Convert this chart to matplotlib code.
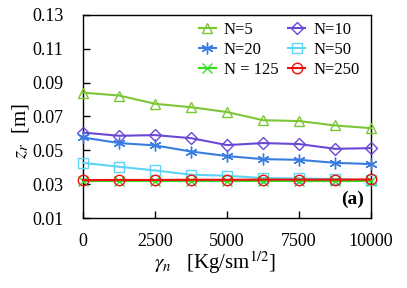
import matplotlib
matplotlib.use('Agg')
import matplotlib.pyplot as plt

# gamma_n values (x axis)
gamma = [0, 1250, 2500, 3750, 5000, 6250, 7500, 8750, 10000]

# z_r [m] for each N
z_n5 = [0.0841, 0.0824, 0.0775, 0.0755, 0.0726, 0.0678, 0.0673, 0.0647, 0.0631]
z_n10 = [0.0605, 0.0586, 0.0590, 0.0572, 0.0531, 0.0543, 0.0537, 0.0509, 0.0513]
z_n20 = [0.0576, 0.0543, 0.0529, 0.0493, 0.0466, 0.0448, 0.0444, 0.0426, 0.0419]
z_n50 = [0.0426, 0.0403, 0.0381, 0.0356, 0.0350, 0.0336, 0.0334, 0.0330, 0.0322]
z_n125 = [0.0320, 0.0320, 0.0320, 0.0320, 0.0320, 0.0320, 0.0320, 0.0320, 0.0320]
z_n250 = [0.0324, 0.0325, 0.0325, 0.0326, 0.0326, 0.0327, 0.0327, 0.0327, 0.0328]

labels = ['N=5', 'N=10', 'N=20', 'N=50', 'N = 125', 'N=250']

plt.rcParams['font.family'] = ['Liberation Serif', 'DejaVu Serif']
plt.rcParams['mathtext.fontset'] = 'stix'

fig = plt.figure(figsize=(4.07, 2.88), dpi=100)
ax = fig.add_axes([0.204, 0.243, 0.708, 0.705])

series = [
    (z_n5, '#7cc636', '^', 7.5),
    (z_n10, '#6a48d6', 'D', 6),
    (z_n20, '#3a7de0', (6, 2, 0), 8.5),
    (z_n50, '#5fd3f5', 's', 7),
    (z_n125, '#33dd22', 'x', 7),
    (z_n250, '#ee1111', 'o', 7.5),
]

handles = []
for (vals, col, mk, ms), lab in zip(series, labels):
    h, = ax.plot(gamma, vals, color=col, lw=1.5, marker=mk, ms=ms,
                 mfc='none', mec=col, mew=1.0, label=lab, clip_on=False, zorder=3)
    handles.append(h)

ax.set_xlim(0, 10000)
ax.set_ylim(0.01, 0.13)
ax.set_xticks([0, 2500, 5000, 7500, 10000])
ax.set_yticks([0.01, 0.03, 0.05, 0.07, 0.09, 0.11, 0.13])
ax.set_yticklabels(['0.01', '0.03', '0.05', '0.07', '0.09', '0.11', '0.13'])
ax.tick_params(direction='in', length=5, width=1, labelsize=13)
ax.tick_params(axis='x', pad=11)
ax.tick_params(axis='y', pad=14)
for sp in ax.spines.values():
    sp.set_linewidth(1.0)

ax.set_xlabel(r'$\gamma_n$   [Kg/sm$^{1/2}$]', fontsize=15)
ax.set_ylabel(r'$z_r$  [m]', fontsize=15)
ax.xaxis.set_label_coords(0.458, -0.155)
ax.yaxis.set_label_coords(-0.18, 0.43)

ax.text(0.975, 0.05, '(a)', transform=ax.transAxes, ha='right', va='bottom',
        fontsize=14, fontweight='bold')

# row-wise order: matplotlib fills legend columns first
order = [0, 2, 4, 1, 3, 5]
ax.legend([handles[i] for i in order], [labels[i] for i in order],
          ncol=2, loc='upper right', frameon=False, fontsize=12,
          handlelength=1.0, handletextpad=0.5, columnspacing=0.6,
          labelspacing=0.25, borderaxespad=0.2, bbox_to_anchor=(0.995, 1.015))

fig.savefig('out.png', dpi=100)
